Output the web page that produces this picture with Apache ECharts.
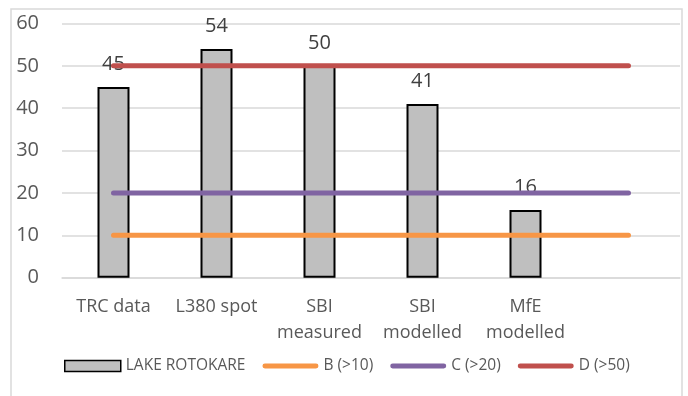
<!DOCTYPE html>
<html>
<head>
<meta charset="utf-8">
<script src="https://cdn.jsdelivr.net/npm/echarts@6/dist/echarts.min.js"></script>
<style>
  html, body { margin: 0; padding: 0; background: #ffffff; }
  #chart { width: 688px; height: 396px; }
</style>
</head>
<body>
<div id="chart"></div>
<script>
// Sampling sources along the x axis (last slot is left empty so the guide lines run past the bars)
const categories = ['TRC data', 'L380 spot', 'SBI\nmeasured', 'SBI\nmodelled', 'MfE\nmodelled', ''];
// Lake Rotokare values per source
const lakeValues = [45, 54, 50, 41, 16, null];
// Threshold bands
const bandB = [10, 10, 10, 10, 10, 10];
const bandC = [20, 20, 20, 20, 20, 20];
const bandD = [50, 50, 50, 50, 50, 50];
const yTicks = { min: 0, max: 60, interval: 10 };

const FONT = '"Open Sans", "Noto Sans", sans-serif';
const TEXT = '#595959';
const GRID = '#d9d9d9';
const COLORS = { B: '#f79646', C: '#8064a2', D: '#c0504d' };

// Legend swatch for the threshold lines: a thick rounded stroke, padded to the icon box height
const LINE_ICON = 'path://M0,0M57,11M2.5,3M54.5,3L54.5,3A2.5,2.5 0 0 1 54.5,8L2.5,8A2.5,2.5 0 0 1 2.5,3Z';

const chart = echarts.init(document.getElementById('chart'), null, { renderer: 'canvas' });

function bandSeries(name, data, color) {
  return {
    name: name,
    type: 'line',
    data: data,
    symbol: 'none',
    showSymbol: false,
    z: 3,
    lineStyle: { color: color, width: 5, cap: 'round' },
    itemStyle: { color: color },
    emphasis: { disabled: true }
  };
}

function lineLegend(name, color) {
  return { name: name, icon: LINE_ICON, itemStyle: { color: color, borderWidth: 0 } };
}

chart.setOption({
  animation: false,
  backgroundColor: '#ffffff',
  graphic: [{
    type: 'rect',
    shape: { x: 11, y: 9, width: 671, height: 400 },
    style: { fill: 'none', stroke: GRID, lineWidth: 1.5 },
    silent: true,
    z: -1
  }],
  grid: { left: 62, right: 8, top: 23.5, bottom: 118.3 },
  legend: {
    left: 59,
    top: 353,
    itemGap: 17,
    itemWidth: 56,
    itemHeight: 11,
    textStyle: { color: TEXT, fontFamily: FONT, fontSize: 15.5 },
    data: [
      { name: 'LAKE ROTOKARE', icon: 'rect', itemStyle: { color: '#bfbfbf', borderColor: '#000000', borderWidth: 1.5 } },
      lineLegend('B (>10)', COLORS.B),
      lineLegend('C (>20)', COLORS.C),
      lineLegend('D (>50)', COLORS.D)
    ]
  },
  xAxis: {
    type: 'category',
    data: categories,
    boundaryGap: true,
    axisTick: { show: false },
    axisLine: { show: true, lineStyle: { color: GRID, width: 1.5 } },
    axisLabel: {
      color: TEXT, fontFamily: FONT, fontSize: 18, lineHeight: 26,
      margin: 16, interval: 0
    }
  },
  yAxis: {
    type: 'value',
    min: yTicks.min,
    max: yTicks.max,
    interval: yTicks.interval,
    axisLine: { show: false },
    axisTick: { show: false },
    splitLine: { lineStyle: { color: GRID, width: 1.5 } },
    axisLabel: { color: TEXT, fontFamily: FONT, fontSize: 20, margin: 23 }
  },
  series: [
    {
      name: 'LAKE ROTOKARE',
      type: 'bar',
      data: lakeValues,
      barWidth: 32,
      z: 2,
      itemStyle: { color: '#bfbfbf', borderColor: '#000000', borderWidth: 2 },
      label: {
        show: true, position: 'top', distance: 13,
        color: '#404040', fontFamily: FONT, fontSize: 20
      },
      emphasis: { disabled: true }
    },
    bandSeries('B (>10)', bandB, COLORS.B),
    bandSeries('C (>20)', bandC, COLORS.C),
    bandSeries('D (>50)', bandD, COLORS.D)
  ]
});
</script>
</body>
</html>
